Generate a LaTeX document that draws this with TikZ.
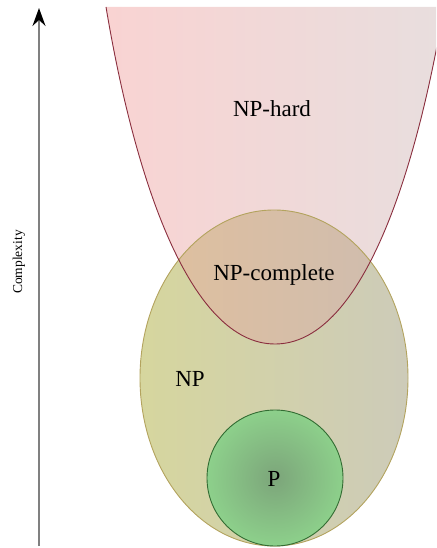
\documentclass[tikz,border=0pt]{standalone}
\usepackage{fontspec}
\setmainfont{Liberation Serif}
\usetikzlibrary{arrows.meta}
\definecolor{hardL}{HTML}{F9D3D2}
\definecolor{hardR}{HTML}{E8DEDE}
\definecolor{hardline}{HTML}{8A2E3E}
\definecolor{npL}{HTML}{D6D69E}
\definecolor{npR}{HTML}{CDCBB9}
\definecolor{npline}{HTML}{B3A35E}
\definecolor{cmpL}{HTML}{DEBF9F}
\definecolor{cmpR}{HTML}{D0BDAE}
\definecolor{pIn}{HTML}{7CA57A}
\definecolor{pOut}{HTML}{8DD08B}
\definecolor{pline}{HTML}{336C33}
\tikzset{
  lbl/.style={font=\fontsize{23}{27}\selectfont, inner sep=0pt},
  axislbl/.style={font=\fontsize{13.5}{16}\selectfont, rotate=90, inner sep=0pt},
}
\begin{document}
\begin{tikzpicture}[x=1pt,y=-1pt]
\useasboundingbox (0,0) rectangle (436,548);
% outlines of the classes
\def\hardpath{(106,7) .. controls (135,180) and (190,344) .. (275,344)
  .. controls (360,344) and (415,180) .. (444,7)}
\def\nppath{(274,378) ellipse [x radius=134, y radius=168]}
\begin{scope}
  \clip (0,7) rectangle (436,548);
  % NP-hard region
  \shade[left color=hardL, right color=hardR] \hardpath -- cycle;
  % NP region
  \shade[left color=npL, right color=npR] \nppath;
  % NP-complete = NP-hard intersected with NP
  \begin{scope}
    \clip \nppath;
    \clip \hardpath -- cycle;
    \shade[left color=cmpL, right color=cmpR] (170,200) rectangle (380,350);
  \end{scope}
  \draw[npline, line width=0.9pt] \nppath;
  \draw[hardline, line width=0.9pt] \hardpath;
\end{scope}
% P region
\shade[inner color=pIn, outer color=pOut] (275,478) circle [radius=68];
\draw[pline, line width=0.9pt] (275,478) circle [radius=68];
% labels
\node[lbl] (nphard) at (272,109) {NP-hard};
\node[lbl] (npc) at (274,275) {NP-complete};
\node[lbl] (np) at (190,379) {NP};
\node[lbl] (p) at (274,479) {P};
% complexity axis
\coordinate (axlo) at (39,546);
\coordinate (axhi) at (39,8);
\draw[gray, line width=1.4pt, -{Stealth[length=18pt, width=13pt, inset=6pt, color=black]}] (axlo) -- (axhi);
\node[axislbl] (cx) at (19,262) {Complexity};
\end{tikzpicture}
\end{document}
